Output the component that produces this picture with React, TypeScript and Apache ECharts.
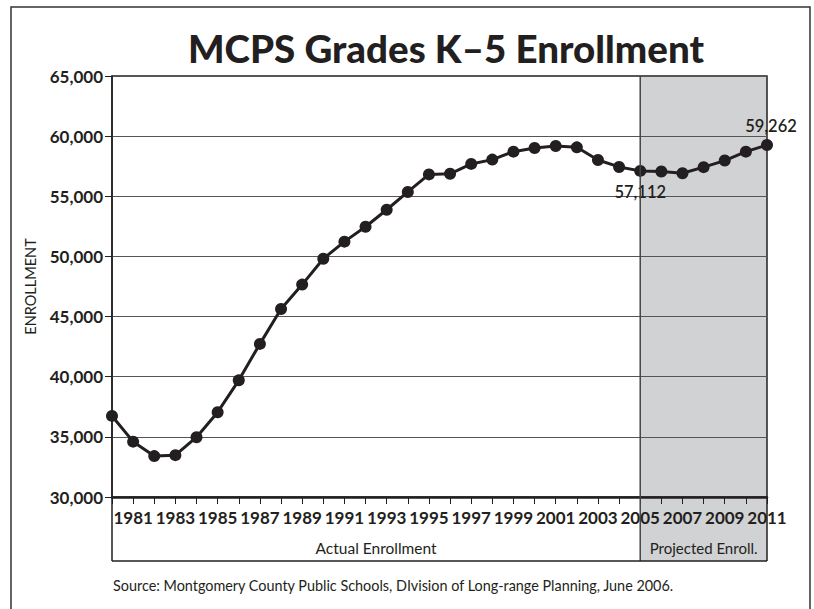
import React, { useEffect, useRef } from "react";
import * as echarts from "echarts";

const TITLE = "MCPS Grades K\u20135 Enrollment";
const years = [
  1980, 1981, 1982, 1983, 1984, 1985, 1986, 1987, 1988, 1989, 1990, 1991, 1992,
  1993, 1994, 1995, 1996, 1997, 1998, 1999, 2000, 2001, 2002, 2003, 2004, 2005,
  2006, 2007, 2008, 2009, 2010, 2011,
];
const enrollment = [
  36740, 34600, 33400, 33480, 34970, 37050, 39700, 42730, 45630, 47660, 49810,
  51230, 52470, 53880, 55360, 56820, 56870, 57690, 58050, 58710, 59010, 59180,
  59070, 58020, 57440, 57112, 57060, 56920, 57420, 57970, 58710, 59262,
];
const labeledYears = [2005, 2011];
const projectionStart = 2005;
const projectionEnd = 2011;
const yTicks = { min: 30000, max: 65000, step: 5000 };
const bandLabels = ["Actual Enrollment", "Projected Enroll."];
const SOURCE =
  "Source: Montgomery County Public Schools, DIvision of Long-range Planning, June 2006.";

const INK = "#231f20";
const FONT = "Lato";

export default function App() {
  const ref = useRef<HTMLDivElement>(null);
  useEffect(() => {
    if (!ref.current) return;
    const chart = echarts.init(ref.current, null, { renderer: "svg" });
    const fmt = (v: number) => v.toLocaleString("en-US");
    const data = years.map((y, i) => {
      const item: any = { value: [y, enrollment[i]] };
      if (labeledYears.includes(y)) {
        const isLast = y === projectionEnd;
        item.label = {
          show: true,
          position: isLast ? "top" : "bottom",
          distance: isLast ? 5 : 7,
          offset: isLast ? [4, 0] : [0, 0],
          formatter: () => fmt(enrollment[i]),
          fontFamily: FONT,
          fontSize: 16.5,
          fontWeight: 600,
          color: INK,
        };
      }
      return item;
    });
    chart.setOption({
      animation: false,
      textStyle: { fontFamily: FONT },
      title: {
        text: TITLE,
        left: 441,
        textAlign: "center",
        top: 23,
        textStyle: { fontFamily: FONT, fontSize: 38.5, fontWeight: 900, color: INK },
      },
      grid: {
        left: 112,
        right: 47,
        top: 76,
        bottom: 112,
        show: true,
        borderColor: INK,
        borderWidth: 1.5,
        backgroundColor: "transparent",
      },
      xAxis: {
        type: "value",
        min: years[0],
        max: years[years.length - 1],
        interval: 1,
        axisLine: { show: true, lineStyle: { color: INK, width: 2.5 } },
        axisTick: { show: true, length: 7, lineStyle: { color: INK, width: 1 } },
        splitLine: { show: false },
        axisLabel: {
          margin: 12,
          fontFamily: FONT,
          fontSize: 17,
          fontWeight: "bold",
          color: INK,
          formatter: (v: number) => (v % 2 === 1 ? String(v) : ""),
        },
      },
      yAxis: {
        type: "value",
        min: yTicks.min,
        max: yTicks.max,
        interval: yTicks.step,
        name: "ENROLLMENT",
        nameLocation: "middle",
        nameRotate: 90,
        nameGap: 74,
        nameTextStyle: { fontFamily: FONT, fontSize: 14.5, color: INK },
        axisLine: { show: true, lineStyle: { color: INK, width: 1.5 } },
        axisTick: { show: true, length: 7, lineStyle: { color: INK, width: 1 } },
        splitLine: { show: true, lineStyle: { color: "#555", width: 1.2 } },
        axisLabel: {
          margin: 9,
          fontFamily: FONT,
          fontSize: 17,
          fontWeight: "bold",
          color: INK,
          formatter: (v: number) => fmt(v),
        },
      },
      series: [
        {
          type: "line",
          data,
          symbol: "circle",
          symbolSize: 12,
          lineStyle: { color: INK, width: 3 },
          itemStyle: { color: INK },
          z: 5,
        },
      ],
    });

    const [xs, yTop] = chart.convertToPixel({ gridIndex: 0 }, [projectionStart, yTicks.max]) as number[];
    const [xe, yBot] = chart.convertToPixel({ gridIndex: 0 }, [projectionEnd, yTicks.min]) as number[];
    const [xl] = chart.convertToPixel({ gridIndex: 0 }, [years[0], yTicks.min]) as number[];
    const boxBottom = yBot + 64;
    const stroke = { stroke: INK, lineWidth: 1.5 };
    chart.setOption({
      graphic: [
        {
          type: "rect",
          z: -10,
          silent: true,
          shape: { x: xs, y: yTop, width: xe - xs, height: boxBottom - yTop },
          style: { fill: "#d1d2d4" },
        },
        {
          type: "line",
          z: 10,
          shape: { x1: xs, y1: yTop, x2: xs, y2: boxBottom },
          style: { stroke: "#444", lineWidth: 1.5 },
        },
        { type: "line", z: 10, shape: { x1: xl, y1: yBot, x2: xl, y2: boxBottom }, style: stroke },
        { type: "line", z: 10, shape: { x1: xe, y1: yBot, x2: xe, y2: boxBottom }, style: stroke },
        { type: "line", z: 10, shape: { x1: xl, y1: boxBottom, x2: xe, y2: boxBottom }, style: stroke },
        {
          type: "text",
          z: 10,
          x: (xl + xs) / 2,
          y: boxBottom - 13,
          style: {
            text: bandLabels[0],
            fill: INK,
            font: `15.5px ${FONT}`,
            align: "center",
            verticalAlign: "middle",
          },
        },
        {
          type: "text",
          z: 10,
          x: (xs + xe) / 2,
          y: boxBottom - 13,
          style: {
            text: bandLabels[1],
            fill: INK,
            font: `15px ${FONT}`,
            align: "center",
            verticalAlign: "middle",
          },
        },
        {
          type: "text",
          z: 10,
          x: xl + 1,
          y: boxBottom + 24,
          style: {
            text: SOURCE,
            fill: INK,
            font: `14.4px ${FONT}`,
            align: "left",
            verticalAlign: "middle",
          },
        },
        {
          type: "rect",
          z: 10,
          silent: true,
          shape: { x: 11, y: 7, width: 799, height: 640 },
          style: { fill: "none", stroke: "#333", lineWidth: 1.5 },
        },
      ],
    });
    return () => chart.dispose();
  }, []);
  return (
    <div
      ref={ref}
      style={{ position: "fixed", left: 0, top: 0, width: 814, height: 609, background: "#fff" }}
    />
  );
}
